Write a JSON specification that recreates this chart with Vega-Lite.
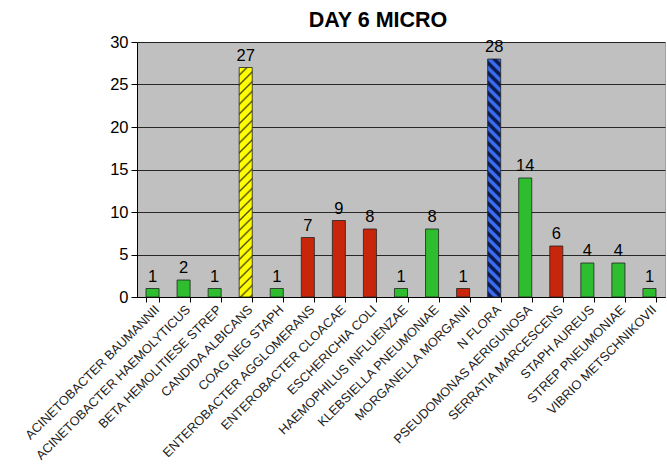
{
  "$schema": "https://vega.github.io/schema/vega-lite/v6.json",
  "autosize": "none",
  "width": 528,
  "height": 255,
  "padding": {"left": 137, "top": 42, "right": 2, "bottom": 168},
  "background": "white",
  "title": {"text": "DAY 6 MICRO", "font": "Liberation Sans", "fontSize": 21.5, "fontWeight": "bold", "color": "#000000", "anchor": "middle", "dx": -23, "offset": 3},
  "config": {
    "view": {"fill": "#C0C0C0", "stroke": "#A0A0A0", "strokeWidth": 1},
    "font": "Liberation Sans"
  },
  "data": {"values": [
    {"organism": "ACINETOBACTER BAUMANNII", "count": 1, "group": "green"},
    {"organism": "ACINETOBACTER HAEMOLYTICUS", "count": 2, "group": "green"},
    {"organism": "BETA HEMOLITIESE STREP", "count": 1, "group": "green"},
    {"organism": "CANDIDA ALBICANS", "count": 27, "group": "yellow"},
    {"organism": "COAG NEG STAPH", "count": 1, "group": "green"},
    {"organism": "ENTEROBACTER AGGLOMERANS", "count": 7, "group": "red"},
    {"organism": "ENTEROBACTER CLOACAE", "count": 9, "group": "red"},
    {"organism": "ESCHERICHIA COLI", "count": 8, "group": "red"},
    {"organism": "HAEMOPHILUS INFLUENZAE", "count": 1, "group": "green"},
    {"organism": "KLEBSIELLA  PNEUMONIAE", "count": 8, "group": "green"},
    {"organism": "MORGANELLA MORGANII", "count": 1, "group": "red"},
    {"organism": "N FLORA", "count": 28, "group": "blue"},
    {"organism": "PSEUDOMONAS AERIGUNOSA", "count": 14, "group": "green"},
    {"organism": "SERRATIA MARCESCENS", "count": 6, "group": "red"},
    {"organism": "STAPH AUREUS", "count": 4, "group": "green"},
    {"organism": "STREP PNEUMONIAE", "count": 4, "group": "green"},
    {"organism": "VIBRIO METSCHNIKOVII", "count": 1, "group": "green"}
  ]},
  "encoding": {
    "x": {"field": "organism", "type": "nominal", "sort": null,
      "scale": {"paddingInner": 0.58, "paddingOuter": 0.29,
        "domain": ["ACINETOBACTER BAUMANNII", "ACINETOBACTER HAEMOLYTICUS", "BETA HEMOLITIESE STREP", "CANDIDA ALBICANS", "COAG NEG STAPH", "ENTEROBACTER AGGLOMERANS", "ENTEROBACTER CLOACAE", "ESCHERICHIA COLI", "HAEMOPHILUS INFLUENZAE", "KLEBSIELLA  PNEUMONIAE", "MORGANELLA MORGANII", "N FLORA", "PSEUDOMONAS AERIGUNOSA", "SERRATIA MARCESCENS", "STAPH AUREUS", "STREP PNEUMONIAE", "VIBRIO METSCHNIKOVII"]},
      "axis": {"title": null, "labelAngle": -45, "labelFontSize": 12.8, "labelColor": "#222222", "labelPadding": 1,
        "domainColor": "#000000", "tickColor": "#000000", "tickBand": "extent", "tickSize": 5, "grid": false, "labelLimit": 300}},
    "y": {"field": "count", "type": "quantitative",
      "scale": {"domain": [0, 30], "nice": false},
      "axis": {"title": null, "values": [0, 5, 10, 15, 20, 25, 30], "labelFontSize": 16.5, "labelColor": "#000000", "labelPadding": 3,
        "domainColor": "#000000", "tickColor": "#000000", "tickSize": 6, "gridColor": "#000000", "gridOpacity": 0.8, "gridWidth": 1}}
  },
  "layer": [
    {"transform": [{"filter": "datum.group === 'green' || datum.group === 'red'"}],
     "mark": {"type": "bar", "stroke": "#222222", "strokeWidth": 0.8},
     "encoding": {"color": {"field": "group", "type": "nominal", "legend": null,
       "scale": {"domain": ["green", "red"], "range": ["#2EBD2E", "#C8260A"]}}}},
    {"transform": [{"filter": "datum.group === 'yellow'"}],
     "mark": {"type": "bar", "stroke": "#222222", "strokeWidth": 0.8,
       "fill": {"gradient": "linear", "x1": 0, "y1": 0, "x2": 0.0598, "y2": 1.0534, "stops": [
         {"offset": 0, "color": "#FFFF00"}, {"offset": 0.024, "color": "#FFFF00"}, {"offset": 0.032, "color": "#4D4D00"},
         {"offset": 0.04, "color": "#FFFF00"}, {"offset": 0.064, "color": "#FFFF00"}, {"offset": 0.072, "color": "#4D4D00"},
         {"offset": 0.08, "color": "#FFFF00"}, {"offset": 0.104, "color": "#FFFF00"}, {"offset": 0.112, "color": "#4D4D00"},
         {"offset": 0.12, "color": "#FFFF00"}, {"offset": 0.144, "color": "#FFFF00"}, {"offset": 0.152, "color": "#4D4D00"},
         {"offset": 0.16, "color": "#FFFF00"}, {"offset": 0.184, "color": "#FFFF00"}, {"offset": 0.192, "color": "#4D4D00"},
         {"offset": 0.2, "color": "#FFFF00"}, {"offset": 0.224, "color": "#FFFF00"}, {"offset": 0.232, "color": "#4D4D00"},
         {"offset": 0.24, "color": "#FFFF00"}, {"offset": 0.264, "color": "#FFFF00"}, {"offset": 0.272, "color": "#4D4D00"},
         {"offset": 0.28, "color": "#FFFF00"}, {"offset": 0.304, "color": "#FFFF00"}, {"offset": 0.312, "color": "#4D4D00"},
         {"offset": 0.32, "color": "#FFFF00"}, {"offset": 0.344, "color": "#FFFF00"}, {"offset": 0.352, "color": "#4D4D00"},
         {"offset": 0.36, "color": "#FFFF00"}, {"offset": 0.384, "color": "#FFFF00"}, {"offset": 0.392, "color": "#4D4D00"},
         {"offset": 0.4, "color": "#FFFF00"}, {"offset": 0.424, "color": "#FFFF00"}, {"offset": 0.432, "color": "#4D4D00"},
         {"offset": 0.44, "color": "#FFFF00"}, {"offset": 0.464, "color": "#FFFF00"}, {"offset": 0.472, "color": "#4D4D00"},
         {"offset": 0.48, "color": "#FFFF00"}, {"offset": 0.504, "color": "#FFFF00"}, {"offset": 0.512, "color": "#4D4D00"},
         {"offset": 0.52, "color": "#FFFF00"}, {"offset": 0.544, "color": "#FFFF00"}, {"offset": 0.552, "color": "#4D4D00"},
         {"offset": 0.56, "color": "#FFFF00"}, {"offset": 0.584, "color": "#FFFF00"}, {"offset": 0.592, "color": "#4D4D00"},
         {"offset": 0.6, "color": "#FFFF00"}, {"offset": 0.624, "color": "#FFFF00"}, {"offset": 0.632, "color": "#4D4D00"},
         {"offset": 0.64, "color": "#FFFF00"}, {"offset": 0.664, "color": "#FFFF00"}, {"offset": 0.672, "color": "#4D4D00"},
         {"offset": 0.68, "color": "#FFFF00"}, {"offset": 0.704, "color": "#FFFF00"}, {"offset": 0.712, "color": "#4D4D00"},
         {"offset": 0.72, "color": "#FFFF00"}, {"offset": 0.744, "color": "#FFFF00"}, {"offset": 0.752, "color": "#4D4D00"},
         {"offset": 0.76, "color": "#FFFF00"}, {"offset": 0.784, "color": "#FFFF00"}, {"offset": 0.792, "color": "#4D4D00"},
         {"offset": 0.8, "color": "#FFFF00"}, {"offset": 0.824, "color": "#FFFF00"}, {"offset": 0.832, "color": "#4D4D00"},
         {"offset": 0.84, "color": "#FFFF00"}, {"offset": 0.864, "color": "#FFFF00"}, {"offset": 0.872, "color": "#4D4D00"},
         {"offset": 0.88, "color": "#FFFF00"}, {"offset": 0.904, "color": "#FFFF00"}, {"offset": 0.912, "color": "#4D4D00"},
         {"offset": 0.92, "color": "#FFFF00"}, {"offset": 0.944, "color": "#FFFF00"}, {"offset": 0.952, "color": "#4D4D00"},
         {"offset": 0.96, "color": "#FFFF00"}, {"offset": 0.984, "color": "#FFFF00"}, {"offset": 0.992, "color": "#4D4D00"},
         {"offset": 1, "color": "#FFFF00"}]}},
     "encoding": {}},
    {"transform": [{"filter": "datum.group === 'blue'"}],
     "mark": {"type": "bar", "stroke": "#222222", "strokeWidth": 0.8,
       "fill": {"gradient": "linear", "x1": 1, "y1": 0, "x2": 0.9426, "y2": 1.0515, "stops": [
         {"offset": 0, "color": "#3A6DF0"}, {"offset": 0.012, "color": "#3A6DF0"}, {"offset": 0.02, "color": "#0A1A50"}, {"offset": 0.032, "color": "#0A1A50"},
         {"offset": 0.04, "color": "#3A6DF0"}, {"offset": 0.052, "color": "#3A6DF0"}, {"offset": 0.06, "color": "#0A1A50"}, {"offset": 0.072, "color": "#0A1A50"},
         {"offset": 0.08, "color": "#3A6DF0"}, {"offset": 0.092, "color": "#3A6DF0"}, {"offset": 0.1, "color": "#0A1A50"}, {"offset": 0.112, "color": "#0A1A50"},
         {"offset": 0.12, "color": "#3A6DF0"}, {"offset": 0.132, "color": "#3A6DF0"}, {"offset": 0.14, "color": "#0A1A50"}, {"offset": 0.152, "color": "#0A1A50"},
         {"offset": 0.16, "color": "#3A6DF0"}, {"offset": 0.172, "color": "#3A6DF0"}, {"offset": 0.18, "color": "#0A1A50"}, {"offset": 0.192, "color": "#0A1A50"},
         {"offset": 0.2, "color": "#3A6DF0"}, {"offset": 0.212, "color": "#3A6DF0"}, {"offset": 0.22, "color": "#0A1A50"}, {"offset": 0.232, "color": "#0A1A50"},
         {"offset": 0.24, "color": "#3A6DF0"}, {"offset": 0.252, "color": "#3A6DF0"}, {"offset": 0.26, "color": "#0A1A50"}, {"offset": 0.272, "color": "#0A1A50"},
         {"offset": 0.28, "color": "#3A6DF0"}, {"offset": 0.292, "color": "#3A6DF0"}, {"offset": 0.3, "color": "#0A1A50"}, {"offset": 0.312, "color": "#0A1A50"},
         {"offset": 0.32, "color": "#3A6DF0"}, {"offset": 0.332, "color": "#3A6DF0"}, {"offset": 0.34, "color": "#0A1A50"}, {"offset": 0.352, "color": "#0A1A50"},
         {"offset": 0.36, "color": "#3A6DF0"}, {"offset": 0.372, "color": "#3A6DF0"}, {"offset": 0.38, "color": "#0A1A50"}, {"offset": 0.392, "color": "#0A1A50"},
         {"offset": 0.4, "color": "#3A6DF0"}, {"offset": 0.412, "color": "#3A6DF0"}, {"offset": 0.42, "color": "#0A1A50"}, {"offset": 0.432, "color": "#0A1A50"},
         {"offset": 0.44, "color": "#3A6DF0"}, {"offset": 0.452, "color": "#3A6DF0"}, {"offset": 0.46, "color": "#0A1A50"}, {"offset": 0.472, "color": "#0A1A50"},
         {"offset": 0.48, "color": "#3A6DF0"}, {"offset": 0.492, "color": "#3A6DF0"}, {"offset": 0.5, "color": "#0A1A50"}, {"offset": 0.512, "color": "#0A1A50"},
         {"offset": 0.52, "color": "#3A6DF0"}, {"offset": 0.532, "color": "#3A6DF0"}, {"offset": 0.54, "color": "#0A1A50"}, {"offset": 0.552, "color": "#0A1A50"},
         {"offset": 0.56, "color": "#3A6DF0"}, {"offset": 0.572, "color": "#3A6DF0"}, {"offset": 0.58, "color": "#0A1A50"}, {"offset": 0.592, "color": "#0A1A50"},
         {"offset": 0.6, "color": "#3A6DF0"}, {"offset": 0.612, "color": "#3A6DF0"}, {"offset": 0.62, "color": "#0A1A50"}, {"offset": 0.632, "color": "#0A1A50"},
         {"offset": 0.64, "color": "#3A6DF0"}, {"offset": 0.652, "color": "#3A6DF0"}, {"offset": 0.66, "color": "#0A1A50"}, {"offset": 0.672, "color": "#0A1A50"},
         {"offset": 0.68, "color": "#3A6DF0"}, {"offset": 0.692, "color": "#3A6DF0"}, {"offset": 0.7, "color": "#0A1A50"}, {"offset": 0.712, "color": "#0A1A50"},
         {"offset": 0.72, "color": "#3A6DF0"}, {"offset": 0.732, "color": "#3A6DF0"}, {"offset": 0.74, "color": "#0A1A50"}, {"offset": 0.752, "color": "#0A1A50"},
         {"offset": 0.76, "color": "#3A6DF0"}, {"offset": 0.772, "color": "#3A6DF0"}, {"offset": 0.78, "color": "#0A1A50"}, {"offset": 0.792, "color": "#0A1A50"},
         {"offset": 0.8, "color": "#3A6DF0"}, {"offset": 0.812, "color": "#3A6DF0"}, {"offset": 0.82, "color": "#0A1A50"}, {"offset": 0.832, "color": "#0A1A50"},
         {"offset": 0.84, "color": "#3A6DF0"}, {"offset": 0.852, "color": "#3A6DF0"}, {"offset": 0.86, "color": "#0A1A50"}, {"offset": 0.872, "color": "#0A1A50"},
         {"offset": 0.88, "color": "#3A6DF0"}, {"offset": 0.892, "color": "#3A6DF0"}, {"offset": 0.9, "color": "#0A1A50"}, {"offset": 0.912, "color": "#0A1A50"},
         {"offset": 0.92, "color": "#3A6DF0"}, {"offset": 0.932, "color": "#3A6DF0"}, {"offset": 0.94, "color": "#0A1A50"}, {"offset": 0.952, "color": "#0A1A50"},
         {"offset": 0.96, "color": "#3A6DF0"}, {"offset": 0.972, "color": "#3A6DF0"}, {"offset": 0.98, "color": "#0A1A50"}, {"offset": 0.992, "color": "#0A1A50"},
         {"offset": 1, "color": "#3A6DF0"}]}},
     "encoding": {}},
    {"mark": {"type": "text", "dy": -12, "fontSize": 16.5, "color": "#000000"},
     "encoding": {"text": {"field": "count", "type": "quantitative"}}}
  ]
}
